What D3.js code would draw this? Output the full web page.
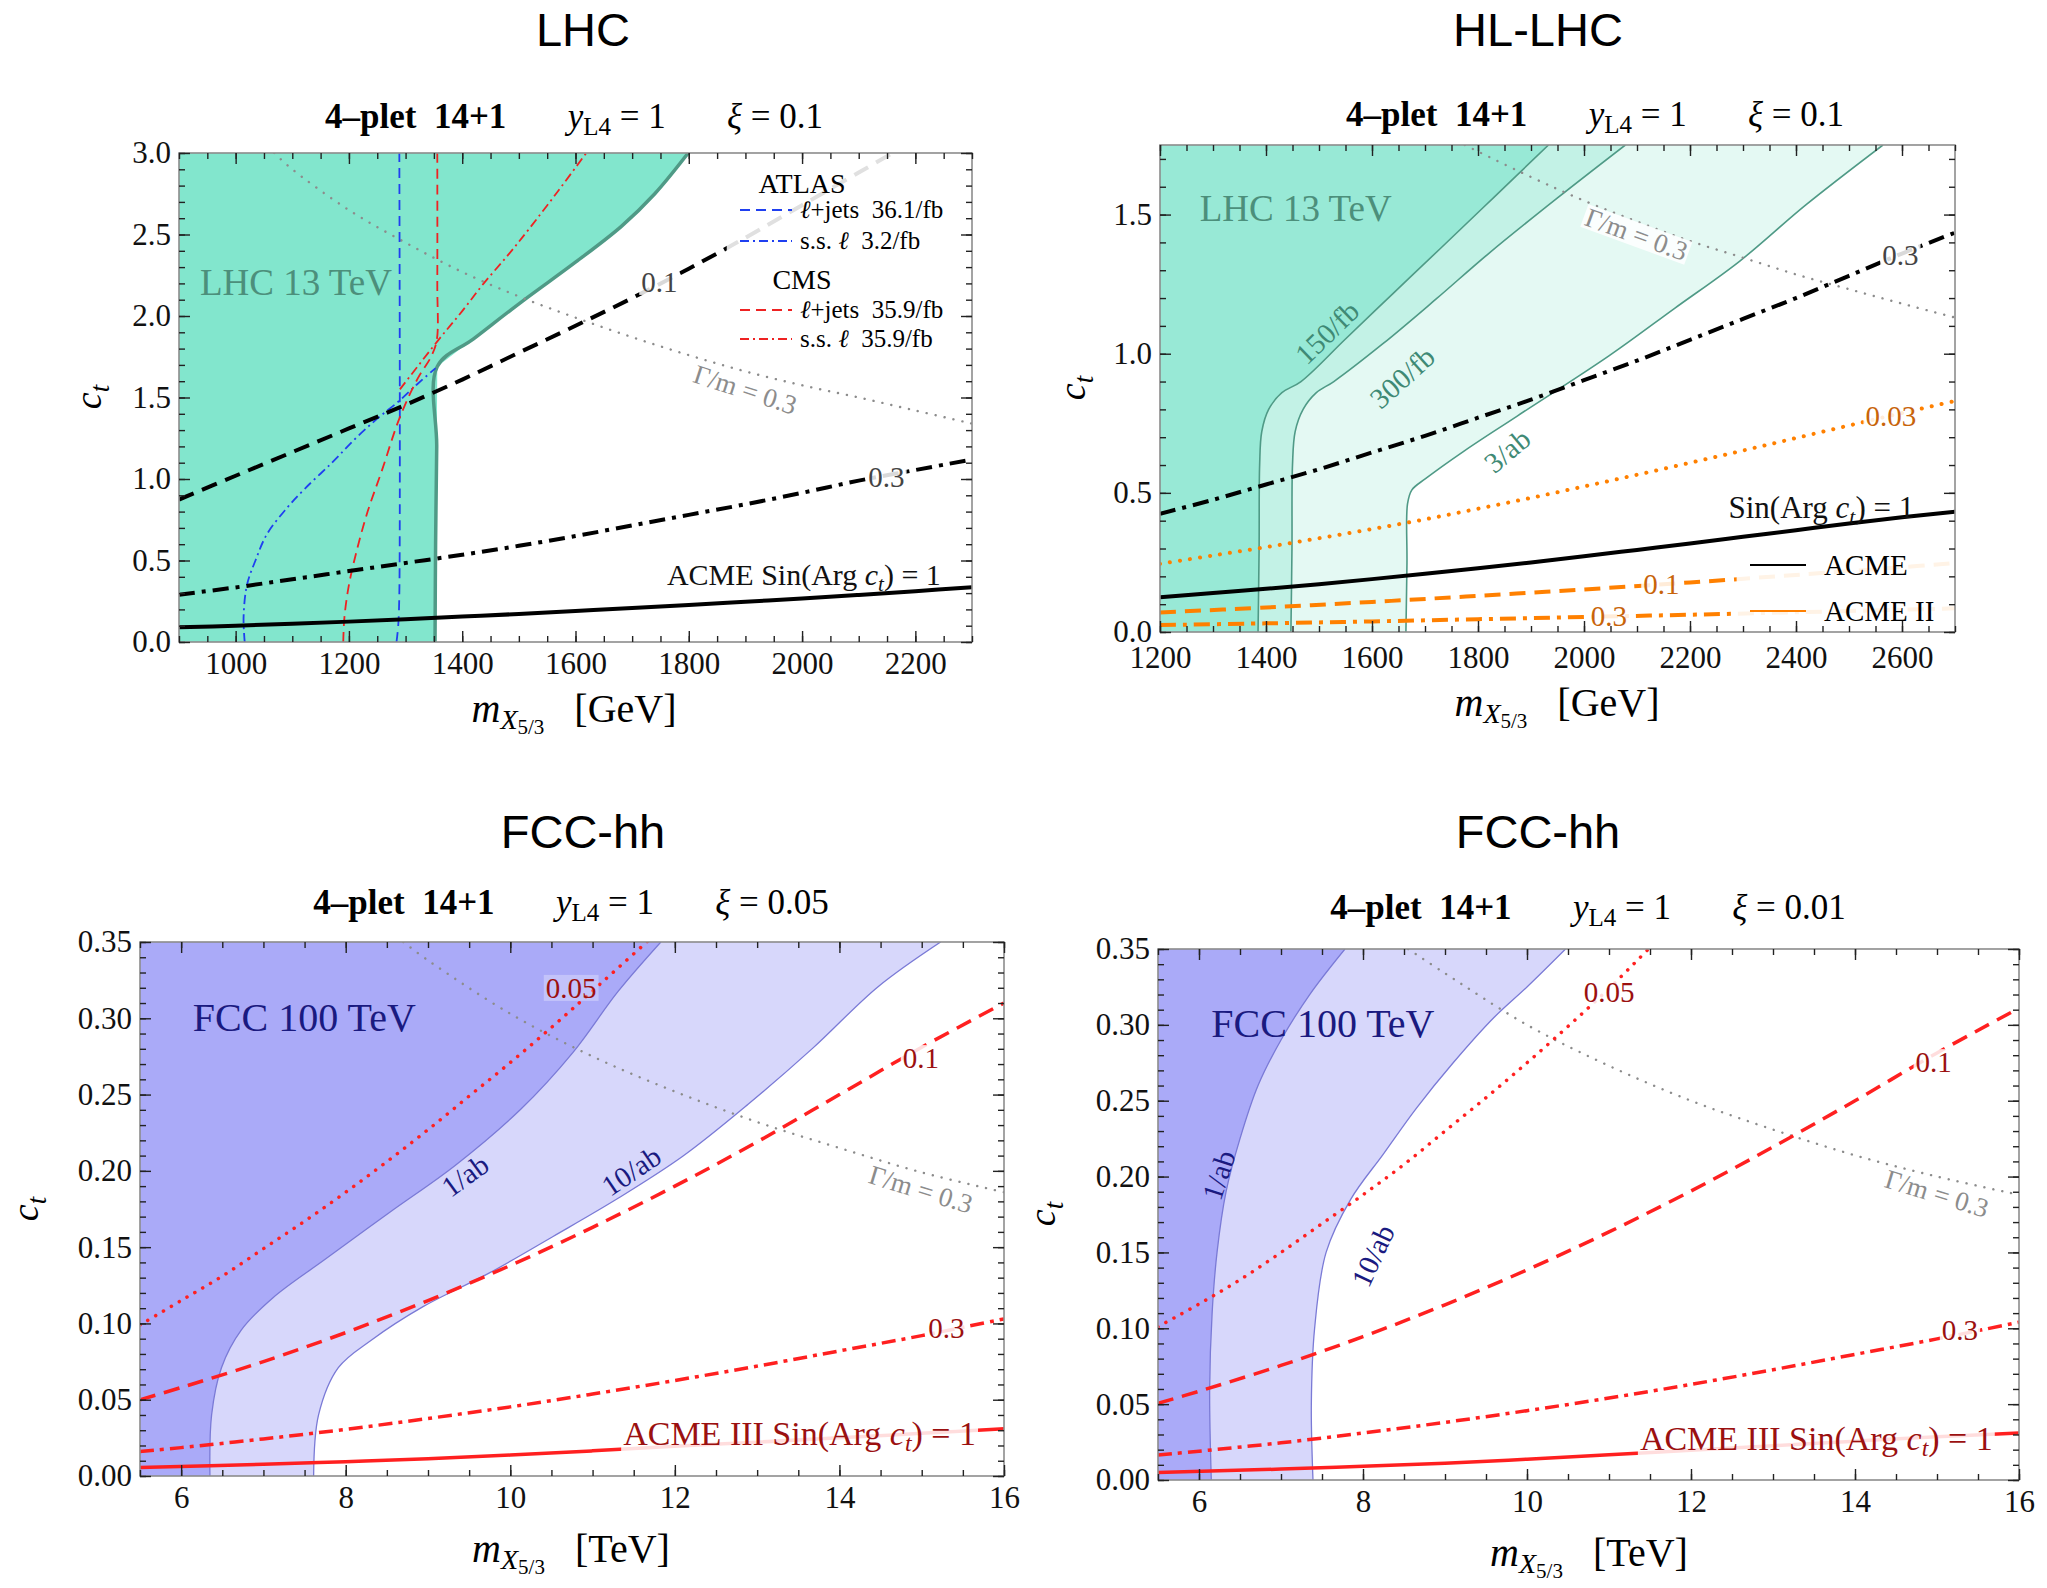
<!DOCTYPE html>
<html>
<head>
<meta charset="utf-8">
<script src="https://cdn.jsdelivr.net/npm/d3@7"></script>
<style>
body { margin: 0; background: #fff; }
svg { display: block; }
text { white-space: pre; }
</style>
</head>
<body>
<svg id="fig" width="2047" height="1588"></svg>
<script>
// ---------- LHC panel (m in GeV, c_t) ----------
var p1Excl = [[1352,0],[1353,0.6],[1355,1.2],[1356,1.69],[1420,1.86],[1506,2.09],[1600,2.33],[1681,2.55],[1740,2.75],[1799,3.0]];
var p1Xi01 = [[900,0.874],[1000,1.02],[1100,1.165],[1200,1.31],[1300,1.455],[1400,1.61],[1500,1.775],[1600,1.94],[1700,2.11],[1800,2.29],[1900,2.48],[2000,2.68],[2100,2.88],[2160,3.0]];
var p1Xi03 = [[900,0.29],[1000,0.335],[1100,0.385],[1200,0.435],[1300,0.485],[1400,0.535],[1500,0.59],[1600,0.65],[1700,0.715],[1800,0.78],[1900,0.845],[2000,0.915],[2100,0.99],[2200,1.055],[2300,1.12]];
var p1Acme = [[900,0.09],[1000,0.1],[1100,0.112],[1200,0.125],[1300,0.14],[1400,0.156],[1500,0.172],[1600,0.19],[1700,0.208],[1800,0.227],[1900,0.247],[2000,0.267],[2100,0.289],[2200,0.312],[2300,0.336]];
var p1Gamma = [[1068,3.0],[1100,2.9],[1200,2.65],[1300,2.45],[1400,2.27],[1500,2.12],[1600,1.99],[1700,1.87],[1800,1.76],[1900,1.66],[2000,1.575],[2100,1.5],[2200,1.42],[2300,1.34]];
var p1AtlasLj = [[1284,0],[1287,0.1],[1289,0.3],[1289,3.0]];
var p1AtlasSs = [[1016,0],[1014,0.15],[1020,0.35],[1035,0.5],[1055,0.66],[1090,0.82],[1122,0.94],[1170,1.1],[1212,1.25],[1250,1.37],[1289,1.48],[1320,1.58],[1353,1.68]];
var p1CmsLj = [[1190,0],[1192,0.15],[1200,0.35],[1213,0.55],[1233,0.8],[1258,1.05],[1290,1.38],[1322,1.62],[1345,1.75],[1355,1.85],[1356,2.2],[1356,3.0]];
var p1CmsSs = [[1290,1.55],[1355,1.84],[1400,2.03],[1438,2.2],[1480,2.37],[1517,2.53],[1570,2.77],[1619,3.0]];

// ---------- HL-LHC panel ----------
var p2Reg3ab = [[1664,0],[1666,0.25],[1667,0.46],[1675,0.51],[1701,0.551],[1775,0.652],[1874,0.776],[2047,0.992],[2171,1.163],[2294,1.333],[2418,1.534],[2564,1.75]];
var p2Reg300 = [[1447,0],[1449,0.3],[1450,0.6],[1455,0.72],[1470,0.8],[1495,0.86],[1528,0.9],[1620,1.035],[1720,1.195],[1820,1.36],[1950,1.56],[2078,1.75]];
var p2Reg150 = [[1385,0],[1387,0.3],[1388,0.6],[1392,0.72],[1405,0.8],[1430,0.86],[1466,0.9],[1550,1.053],[1640,1.217],[1730,1.38],[1830,1.562],[1933,1.75]];
var p2Xi03 = [[1200,0.425],[1300,0.475],[1400,0.53],[1500,0.585],[1600,0.645],[1700,0.705],[1800,0.77],[1900,0.835],[2000,0.905],[2100,0.975],[2200,1.05],[2300,1.125],[2400,1.2],[2500,1.28],[2600,1.36],[2700,1.435]];
var p2Xi003 = [[1200,0.245],[1300,0.275],[1400,0.305],[1500,0.337],[1600,0.37],[1700,0.405],[1800,0.443],[1900,0.482],[2000,0.523],[2100,0.565],[2200,0.608],[2300,0.652],[2400,0.697],[2500,0.742],[2600,0.787],[2700,0.83]];
var p2Acme = [[1200,0.125],[1300,0.14],[1400,0.155],[1500,0.172],[1600,0.19],[1700,0.209],[1800,0.229],[1900,0.25],[2000,0.272],[2100,0.295],[2200,0.318],[2300,0.342],[2400,0.366],[2500,0.39],[2600,0.412],[2700,0.432]];
var p2Xi01o = [[1200,0.07],[1400,0.088],[1600,0.108],[1800,0.13],[2000,0.153],[2200,0.178],[2400,0.205],[2600,0.233],[2700,0.248]];
var p2Xi03o = [[1200,0.025],[1400,0.031],[1600,0.038],[1800,0.046],[2000,0.054],[2200,0.062],[2400,0.071],[2600,0.08],[2700,0.085]];
var p2Gamma = [[1775,1.75],[1900,1.635],[2000,1.55],[2100,1.475],[2200,1.405],[2300,1.345],[2400,1.285],[2500,1.232],[2600,1.18],[2700,1.13]];

// ---------- FCC-hh, xi = 0.05 (m in TeV) ----------
var p3Reg10 = [[7.61,0],[7.67,0.04],[7.91,0.071],[8.31,0.089],[8.94,0.111],[9.73,0.1326],[10.52,0.157],[11.31,0.182],[12.1,0.2097],[12.89,0.2436],[13.68,0.2806],[14.47,0.3207],[15.23,0.35]];
var p3Reg1 = [[6.35,0],[6.37,0.04],[6.49,0.071],[6.73,0.0956],[7.12,0.117],[7.75,0.142],[8.54,0.173],[9.33,0.2035],[10.13,0.2405],[10.76,0.2775],[11.31,0.3176],[11.83,0.35]];
var p3Xi005 = [[5.5,0.099],[6,0.115],[6.5,0.131],[7,0.149],[7.5,0.167],[8,0.186],[8.5,0.206],[9,0.227],[9.5,0.249],[10,0.271],[10.5,0.294],[11,0.318],[11.7,0.352]];
var p3Xi01 = [[5.5,0.05],[6,0.058],[7,0.075],[8,0.094],[9,0.115],[10,0.138],[11,0.163],[12,0.19],[13,0.219],[14,0.25],[15,0.281],[16,0.31]];
var p3Xi03 = [[5.5,0.016],[6,0.0186],[7,0.0243],[8,0.0306],[9,0.0377],[10,0.0453],[11,0.0537],[12,0.0626],[13,0.072],[14,0.082],[15,0.092],[16,0.103]];
var p3Acme = [[5.5,0.0055],[7,0.0077],[8,0.0094],[9,0.0113],[10,0.0137],[11,0.0165],[12,0.0195],[13,0.0222],[14,0.025],[15,0.028],[16,0.031]];
var p3Gamma = [[8.7,0.35],[9,0.338],[10,0.303],[11,0.275],[12,0.252],[13,0.232],[14,0.215],[15,0.199],[16,0.186]];

// ---------- FCC-hh, xi = 0.01 ----------
var p4Reg10 = [[7.39,0],[7.37,0.05],[7.41,0.1],[7.55,0.15],[7.85,0.185],[8.25,0.215],[8.65,0.245],[9.1,0.275],[9.6,0.305],[10.0,0.325],[10.47,0.35]];
var p4Reg1 = [[6.15,0],[6.13,0.06],[6.16,0.11],[6.22,0.15],[6.33,0.19],[6.5,0.225],[6.72,0.26],[7.0,0.29],[7.35,0.32],[7.78,0.35]];
var p4Xi005 = [[5.5,0.101],[6,0.116],[6.5,0.132],[7,0.15],[7.5,0.169],[8,0.188],[8.5,0.208],[9,0.23],[9.5,0.252],[10,0.275],[10.5,0.299],[11,0.324],[11.5,0.351]];
var p4Xi01 = [[5.5,0.0506],[6,0.0585],[7,0.0755],[8,0.0945],[9,0.1155],[10,0.1385],[11,0.1635],[12,0.1905],[13,0.2195],[14,0.25],[15,0.2815],[16,0.311]];
var p4Xi03 = [[5.5,0.0164],[6,0.019],[7,0.0245],[8,0.031],[9,0.038],[10,0.0457],[11,0.054],[12,0.063],[13,0.0727],[14,0.0828],[15,0.093],[16,0.104]];
var p4Acme = [[5.5,0.005],[7,0.0072],[8,0.009],[9,0.011],[10,0.0137],[11,0.0166],[12,0.0196],[13,0.0226],[14,0.0256],[15,0.0285],[16,0.031]];
var p4Gamma = [[8.55,0.35],[9,0.334],[10,0.3],[11,0.273],[12,0.25],[13,0.231],[14,0.214],[15,0.2],[16,0.188]];

// tick values
var p1XTicks = [1000,1200,1400,1600,1800,2000,2200];
var p1YTicks = [0,0.5,1,1.5,2,2.5,3];
var p2XTicks = [1200,1400,1600,1800,2000,2200,2400,2600];
var p2YTicks = [0,0.5,1,1.5];
var fccXTicks = [6,8,10,12,14,16];
var fccYTicks = [0,0.05,0.1,0.15,0.2,0.25,0.3,0.35];

var serif = "'Liberation Serif','Times New Roman',serif";
var sans = "'Liberation Sans',Arial,sans-serif";
var svg = d3.select("#fig");

function makePanel(id, xDom, yDom, box) {
  var P = {};
  P.x = d3.scaleLinear().domain(xDom).range([box[0], box[2]]);
  P.y = d3.scaleLinear().domain(yDom).range([box[3], box[1]]);
  P.box = box;
  P.g = svg.append("g");
  svg.append("clipPath").attr("id", "clip" + id)
    .append("rect").attr("x", box[0]).attr("y", box[1])
    .attr("width", box[2] - box[0]).attr("height", box[3] - box[1]);
  P.plot = P.g.append("g").attr("clip-path", "url(#clip" + id + ")");
  P.line = d3.line().x(function(d){ return P.x(d[0]); }).y(function(d){ return P.y(d[1]); })
             .curve(d3.curveCatmullRom.alpha(0.5));
  return P;
}

function curve(P, data, color, width, dash, cap) {
  P.plot.append("path").attr("d", P.line(data))
    .attr("fill", "none").attr("stroke", color).attr("stroke-width", width)
    .attr("stroke-dasharray", dash || null)
    .attr("stroke-linecap", cap || "butt");
}

// region left of a boundary, closed along the left edge
function region(P, data, fill, edge, edgeW, lin) {
  var gen = lin ? d3.line().x(function(d){ return P.x(d[0]); }).y(function(d){ return P.y(d[1]); }) : P.line;
  var xd = P.x.domain(), yd = P.y.domain();
  var last = data[data.length - 1];
  var d = gen(data) + "L" + P.x(xd[0] - 1) + "," + P.y(last[1]) +
          "L" + P.x(xd[0] - 1) + "," + P.y(yd[0]) + "Z";
  P.plot.append("path").attr("d", d).attr("fill", fill).attr("stroke", "none");
  if (edge) P.plot.append("path").attr("d", gen(data)).attr("fill", "none")
              .attr("stroke", edge).attr("stroke-width", edgeW);
}

// rich text: parts = [text, {style}]
function rich(sel, parts) {
  parts.forEach(function(p) {
    var t = sel.append("tspan").text(p[0]);
    var s = p[1] || {};
    if (s.i) t.attr("font-style", "italic");
    if (s.b) t.attr("font-weight", "bold");
    if (s.fs) t.attr("font-size", s.fs);
    if (s.dy) t.attr("dy", s.dy);
    if (s.dx) t.attr("dx", s.dx);
  });
  return sel;
}

// label placed in data coordinates, with optional faded white box behind
function tag(P, mx, cy, parts, color, size, angle, bg, anchor) {
  var g = P.g.append("g")
    .attr("transform", "translate(" + P.x(mx) + "," + P.y(cy) + ") rotate(" + (angle || 0) + ")");
  var t = g.append("text").attr("font-family", serif).attr("font-size", size)
    .attr("fill", color).attr("text-anchor", anchor || "middle").attr("y", size * 0.35);
  rich(t, parts);
  if (bg) {
    var b = t.node().getBBox();
    g.insert("rect", "text").attr("x", b.x - 2).attr("y", b.y + 3)
      .attr("width", b.width + 4).attr("height", b.height - 6)
      .attr("fill", "#fff").attr("opacity", bg);
  }
  return g;
}

function frame(P, xMajor, xStep, yMajor, yStep, xFmt, yFmt, xPad) {
  var xd = P.x.domain(), yd = P.y.domain();
  var xMinor = d3.range(Math.ceil(xd[0] / xStep) * xStep, xd[1] + 1e-9, xStep);
  var yMinor = d3.range(0, yd[1] + 1e-9, yStep);
  var b = P.box;
  P.g.append("rect").attr("x", b[0]).attr("y", b[1]).attr("width", b[2] - b[0]).attr("height", b[3] - b[1])
    .attr("fill", "none").attr("stroke", "#8c8c8c").attr("stroke-width", 1.6);
  function ax(axis, tr, vals, size, fmt, pad) {
    var g = P.g.append("g").attr("transform", tr)
      .call(axis.tickValues(vals).tickSize(-size).tickPadding(pad || 9).tickFormat(fmt || ""));
    g.select(".domain").remove();
    g.selectAll("line").attr("stroke", "#222").attr("stroke-width", 1.4);
    g.selectAll("text").attr("font-family", serif).attr("font-size", 31).attr("fill", "#111");
    return g;
  }
  ax(d3.axisBottom(P.x), "translate(0," + b[3] + ")", xMinor, 6);
  ax(d3.axisTop(P.x), "translate(0," + b[1] + ")", xMinor, 6);
  ax(d3.axisLeft(P.y), "translate(" + b[0] + ",0)", yMinor, 6);
  ax(d3.axisRight(P.y), "translate(" + b[2] + ",0)", yMinor, 6);
  ax(d3.axisBottom(P.x), "translate(0," + b[3] + ")", xMajor, 11, xFmt, xPad || 10);
  ax(d3.axisTop(P.x), "translate(0," + b[1] + ")", xMajor, 11);
  ax(d3.axisLeft(P.y), "translate(" + b[0] + ",0)", yMajor, 11, yFmt, 8);
  ax(d3.axisRight(P.y), "translate(" + b[2] + ",0)", yMajor, 11);
}

function headings(P, title, tx, ty, sx, sy, xi, unit, lx, ly, cyx, cyy) {
  svg.append("text").attr("x", tx).attr("y", ty).attr("text-anchor", "middle")
    .attr("font-family", sans).attr("font-size", 47).text(title);
  var s = svg.append("text").attr("x", sx).attr("y", sy).attr("text-anchor", "middle")
    .attr("font-family", serif).attr("font-size", 35);
  rich(s, [["4\u2013plet  14+1", {b: true}], ["       "], ["y", {i: true}], ["L4", {fs: 25, dy: 7}],
           [" = 1", {dy: -7}], ["       "], ["\u03be", {i: true}], [" = " + xi]]);
  var xl = svg.append("text").attr("x", lx).attr("y", ly).attr("text-anchor", "middle")
    .attr("font-family", serif).attr("font-size", 40);
  rich(xl, [["m", {i: true}], ["X", {i: true, fs: 28, dy: 7}], ["5/3", {fs: 21, dy: 5}],
            ["   [" + unit + "]", {fs: 40, dy: -12}]]);
  var yl = svg.append("text").attr("transform", "translate(" + cyx + "," + cyy + ") rotate(-90)")
    .attr("text-anchor", "middle").attr("font-family", serif).attr("font-size", 38);
  rich(yl, [["c", {i: true}], ["t", {i: true, fs: 27, dy: 8}]]);
}

var fmt1 = d3.format(".1f"), fmt2 = d3.format(".2f"), fmtI = d3.format("d");
function sinArg(fs) {
  return [["Sin(Arg "], ["c", {i: true}], ["t", {i: true, fs: fs * 0.7, dy: 6}], [") = 1", {dy: -6}]];
}

// ================= Panel 1 : LHC =================
var P1 = makePanel(1, [900, 2300], [0, 3], [179, 153, 972, 642]);
region(P1, p1Excl, "#82e6cd", null, 0, true);
curve(P1, p1Excl, "#4f9a86", 3.5);
curve(P1, p1Gamma, "#8c8c8c", 2.4, "0.1,9", "round");
curve(P1, p1AtlasLj, "#1f3ff0", 1.8, "10,6");
curve(P1, p1AtlasSs, "#1f3ff0", 1.8, "9,4,2,4");
curve(P1, p1CmsLj, "#ee2222", 1.8, "10,6");
curve(P1, p1CmsSs, "#ee2222", 1.8, "9,4,2,4");
curve(P1, p1Xi01, "#000", 4, "16,9");
curve(P1, p1Xi03, "#000", 4, "16,7,4,7");
curve(P1, p1Acme, "#000", 4);
tag(P1, 937, 2.21, [["LHC 13 TeV"]], "#4c8f7b", 37, 0, 0, "start");
tag(P1, 1748, 2.21, [["0.1"]], "#444", 29, 0, 0.85);
tag(P1, 2149, 1.015, [["0.3"]], "#444", 29, 0, 0.85);
tag(P1, 1900, 1.55, [["\u0393/m = 0.3"]], "#8c8c8c", 27, 18, 0.85);
tag(P1, 2245, 0.417, [["ACME "]].concat(sinArg(30)), "#111", 30, 0, 0, "end");
// legend
P1.g.append("rect").attr("x", P1.x(1867)).attr("y", P1.y(3)).attr("width", P1.x(2300) - P1.x(1867))
  .attr("height", P1.y(1.8) - P1.y(3)).attr("fill", "#fff").attr("opacity", 0.88);
var leg1 = [
  {head: "ATLAS", y: 193},
  {c: "#1f3ff0", dash: "10,6", txt: [["\u2113", {i: true}], ["+jets  36.1/fb"]], y: 210},
  {c: "#1f3ff0", dash: "9,4,2,4", txt: [["s.s. "], ["\u2113", {i: true}], ["  3.2/fb"]], y: 241},
  {head: "CMS", y: 289},
  {c: "#ee2222", dash: "10,6", txt: [["\u2113", {i: true}], ["+jets  35.9/fb"]], y: 310},
  {c: "#ee2222", dash: "9,4,2,4", txt: [["s.s. "], ["\u2113", {i: true}], ["  35.9/fb"]], y: 339}
];
leg1.forEach(function(e) {
  if (e.head) {
    P1.g.append("text").attr("x", 802).attr("y", e.y).attr("text-anchor", "middle")
      .attr("font-family", serif).attr("font-size", 28).text(e.head);
  } else {
    P1.g.append("line").attr("x1", 740).attr("x2", 792).attr("y1", e.y).attr("y2", e.y)
      .attr("stroke", e.c).attr("stroke-width", 1.8).attr("stroke-dasharray", e.dash);
    rich(P1.g.append("text").attr("x", 800).attr("y", e.y + 8).attr("font-family", serif)
      .attr("font-size", 25), e.txt);
  }
});
frame(P1, p1XTicks, 50, p1YTicks, 0.1, fmtI, fmt1);
headings(P1, "LHC", 583, 46, 574, 128, "0.1", "GeV", 574, 722, 101, 397);

// ================= Panel 2 : HL-LHC =================
var P2 = makePanel(2, [1200, 2700], [0, 1.75], [1160, 145, 1955, 632]);
region(P2, p2Reg3ab, "#e4f9f3", "#4f9a86", 1.6);
region(P2, p2Reg300, "#c3f2e6", "#4f9a86", 1.6);
region(P2, p2Reg150, "#98e9d6", "#4f9a86", 1.6);
curve(P2, p2Gamma, "#8c8c8c", 2.4, "0.1,9", "round");
curve(P2, p2Xi03, "#000", 4, "16,7,4,7");
curve(P2, p2Xi003, "#ff8000", 4, "0.1,10", "round");
curve(P2, p2Acme, "#000", 4);
curve(P2, p2Xi01o, "#ff8000", 4, "16,9");
curve(P2, p2Xi03o, "#ff8000", 4, "16,7,4,7");
tag(P2, 1275, 1.524, [["LHC 13 TeV"]], "#4c8f7b", 37, 0, 0, "start");
tag(P2, 1515, 1.077, [["150/fb"]], "#3f8a75", 29, -44, 0);
tag(P2, 1657, 0.915, [["300/fb"]], "#3f8a75", 29, -42, 0);
tag(P2, 1855, 0.652, [["3/ab"]], "#3f8a75", 29, -40, 0);
tag(P2, 2099, 1.43, [["\u0393/m = 0.3"]], "#8c8c8c", 27, 20, 0.85);
tag(P2, 2597, 1.356, [["0.3"]], "#444", 29, 0, 0.85);
tag(P2, 2579, 0.776, [["0.03"]], "#c8640a", 29, 0, 0.85);
tag(P2, 2146, 0.172, [["0.1"]], "#c8640a", 29, 0, 0.85);
tag(P2, 2047, 0.059, [["0.3"]], "#c8640a", 29, 0, 0.85);
tag(P2, 2623, 0.449, sinArg(31), "#111", 31, 0, 0, "end");
P2.g.append("rect").attr("x", P2.x(2288)).attr("y", P2.y(0.285)).attr("width", P2.x(2700) - P2.x(2288))
  .attr("height", P2.y(0) - P2.y(0.285)).attr("fill", "#fff").attr("opacity", 0.9);
[["ACME", "#000", 565], ["ACME II", "#ff8000", 611]].forEach(function(e) {
  P2.g.append("line").attr("x1", 1750).attr("x2", 1806).attr("y1", e[2]).attr("y2", e[2])
    .attr("stroke", e[1]).attr("stroke-width", 2);
  P2.g.append("text").attr("x", 1824).attr("y", e[2] + 10).attr("font-family", serif)
    .attr("font-size", 29).text(e[0]);
});
frame(P2, p2XTicks, 50, p2YTicks, 0.1, fmtI, fmt1, 14);
headings(P2, "HL-LHC", 1538, 46, 1595, 126, "0.1", "GeV", 1557, 716, 1085, 388);

// ================= Panels 3, 4 : FCC-hh =================
function fccPanel(P, reg10, reg1, xi005, xi01, xi03, acme, gamma, lab) {
  region(P, reg10, "#d7d7fb", "#7a7ad6", 1.3);
  region(P, reg1, "#aaaaf8", "#7a7ad6", 1.3);
  curve(P, gamma, "#8c8c8c", 2.4, "0.1,9", "round");
  curve(P, xi005, "#ff2020", 3.5, "0.1,9", "round");
  curve(P, xi01, "#ff2020", 3.5, "16,9");
  curve(P, xi03, "#ff2020", 3.5, "14,6,4,6");
  curve(P, acme, "#ff2020", 3.5);
  tag(P, lab.fcc[0], lab.fcc[1], [["FCC 100 TeV"]], "#1a1a80", 40, 0, 0, "start");
  tag(P, lab.a1[0], lab.a1[1], [["1/ab"]], "#1a1a80", 29, lab.a1[2], 0);
  tag(P, lab.a10[0], lab.a10[1], [["10/ab"]], "#1a1a80", 29, lab.a10[2], 0);
  tag(P, lab.l005[0], lab.l005[1], [["0.05"]], "#9b1010", 29, 0, lab.l005[2]);
  tag(P, lab.l01[0], lab.l01[1], [["0.1"]], "#9b1010", 29, 0, 0.85);
  tag(P, lab.l03[0], lab.l03[1], [["0.3"]], "#9b1010", 29, 0, 0.85);
  tag(P, lab.g[0], lab.g[1], [["\u0393/m = 0.3"]], "#8c8c8c", 27, 17, 0.85);
  tag(P, lab.acme[0], lab.acme[1], [["ACME III "]].concat(sinArg(34)), "#9b1010", 34, 0, 0.85, "end");
  frame(P, fccXTicks, 0.5, fccYTicks, 0.01, fmtI, fmt2);
}

var P3 = makePanel(3, [5.5, 16], [0, 0.35], [140, 942, 1004, 1476]);
fccPanel(P3, p3Reg10, p3Reg1, p3Xi005, p3Xi01, p3Xi03, p3Acme, p3Gamma, {
  fcc: [6.14, 0.301], a1: [9.45, 0.197, -36], a10: [11.47, 0.2, -34],
  l005: [10.74, 0.32, 0.3], l01: [14.99, 0.274], l03: [15.3, 0.097], g: [14.99, 0.188], acme: [15.66, 0.028]
});
headings(P3, "FCC-hh", 583, 848, 571, 914, "0.05", "TeV", 571, 1562, 38, 1209);

var P4 = makePanel(4, [5.5, 16], [0, 0.35], [1158, 949, 2019, 1480]);
fccPanel(P4, p4Reg10, p4Reg1, p4Xi005, p4Xi01, p4Xi03, p4Acme, p4Gamma, {
  fcc: [6.15, 0.301], a1: [6.24, 0.201, -72], a10: [8.12, 0.148, -65],
  l005: [11.0, 0.322, 0.85], l01: [14.96, 0.2755], l03: [15.28, 0.099], g: [15.0, 0.189], acme: [15.68, 0.0277]
});
headings(P4, "FCC-hh", 1538, 848, 1588, 919, "0.01", "TeV", 1589, 1566, 1055, 1214);
</script>
</body>
</html>
